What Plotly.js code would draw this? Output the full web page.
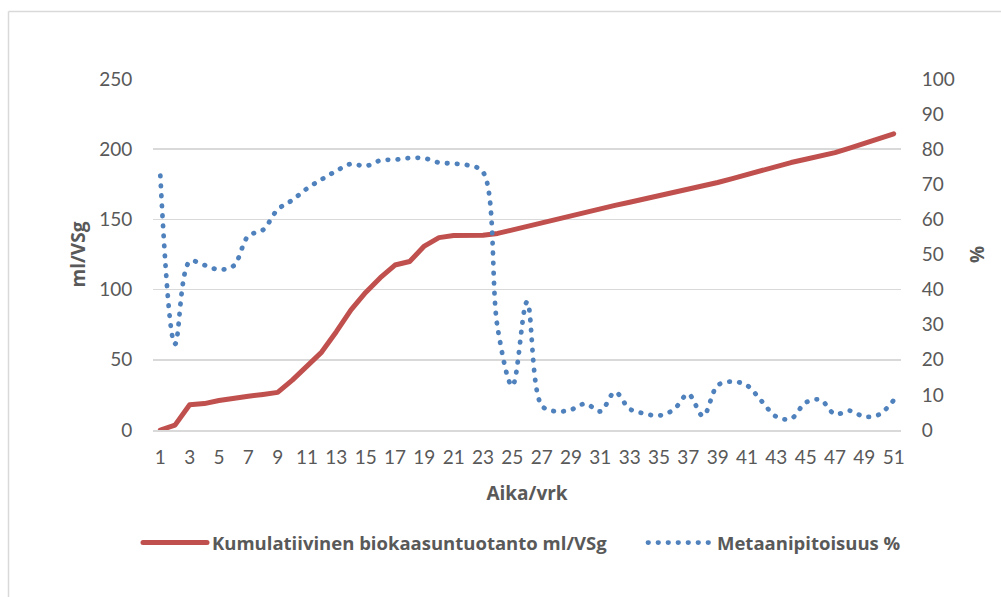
<!DOCTYPE html>
<html>
<head>
<meta charset="utf-8">
<script src="https://cdn.plot.ly/plotly-3.0.1.min.js"></script>
<style>
  html, body { margin: 0; padding: 0; background: #ffffff; }
  #chart { width: 1001px; height: 597px; }
</style>
</head>
<body>
<div id="chart"></div>
<script>
// Days (categories)
const days = [1,2,3,4,5,6,7,8,9,10,11,12,13,14,15,16,17,18,19,20,21,22,23,24,25,26,27,28,29,30,31,32,33,34,35,36,37,38,39,40,41,42,43,44,45,46,47,48,49,50,51];

// Cumulative biogas production, ml/VSg (left axis)
const biogas = [0,3.5,18,18.8,21,22.8,24,25.3,26.8,35.5,45,55.5,70,85.5,98,108.5,117.5,120,131,137,138.5,138.7,138.7,140,142.5,145.5,147.8,150.5,153,155.7,158,160,162.2,164.5,166.6,168.8,171,173.5,176.3,179,182,185,187.7,190.5,192.8,195,197.6,200.8,204,207.3,211];

// Methane content, % (right axis)
const methane = [72.5,24.5,48,47,45.7,46.8,55.3,57,62.8,65.5,68.8,71.4,73.8,75.8,75.2,76.8,77,77.5,77.4,76.2,75.9,75.4,73.5,29,12.6,36.5,7,5.3,5.8,7.5,5.3,10.8,6,4.7,4.1,5.8,10.2,4,12.7,13.8,12.7,8.2,3.8,3.2,7.8,8.6,4.5,5.5,3.8,4.4,8.5];

// Tick labels
const xTickVals = [1,3,5,7,9,11,13,15,17,19,21,23,25,27,29,31,33,35,37,39,41,43,45,47,49,51];
const xTickText = xTickVals.map(String);
const leftTicks = [0,50,100,150,200,250];
const rightTicks = [0,10,20,30,40,50,60,70,80,90,100];

const seriesNames = ["Kumulatiivinen biokaasuntuotanto ml/VSg", "Metaanipitoisuus %"];
const axisTitles = {x: "Aika/vrk", y: "ml/VSg", y2: "%"};
function b(s) { return "<b>" + s + "</b>"; }

const textColor = "#595959";
const gridColor = "#d9d9d9";
const fontFam = "Lato, 'Open Sans', sans-serif";
const boldFam = "'Open Sans', 'Noto Sans', sans-serif";

const traces = [
  {
    x: days, y: biogas, name: b(seriesNames[0]), type: "scatter", mode: "lines",
    line: {color: "#C0504D", width: 5},
    yaxis: "y", hoverinfo: "skip", legend: "legend"
  },
  {
    x: days, y: methane, name: b(seriesNames[1]), type: "scatter", mode: "lines",
    line: {color: "#4F81BD", width: 4.8, shape: "spline", smoothing: 1, dash: "0.5px,9.5px"},
    yaxis: "y2", hoverinfo: "skip", legend: "legend2"
  }
];

const W = 748, H = 351, L = 153, T = 79;
function px2x(p) { return (p - L) / W; }
function py2y(p) { return (T + H - p) / H; }

const legendCommon = {
  orientation: "h", xanchor: "left", y: py2y(543), yanchor: "middle",
  font: {family: boldFam, color: textColor, size: 18.5},
  itemwidth: 64, borderwidth: 0, bgcolor: "rgba(0,0,0,0)"
};

const layout = {
  width: 1001, height: 597,
  margin: {l: L, r: 1001 - L - W, t: T, b: 597 - T - H},
  paper_bgcolor: "#ffffff", plot_bgcolor: "#ffffff",
  font: {family: fontFam, color: textColor, size: 19},
  showlegend: true,
  legend: Object.assign({}, legendCommon, {x: px2x(138)}),
  legend2: Object.assign({}, legendCommon, {x: px2x(643)}),
  xaxis: {
    range: [0.5, 51.5], tickmode: "array", tickvals: xTickVals, ticktext: xTickText,
    showgrid: false, zeroline: false, showline: true, linecolor: gridColor, linewidth: 1.5,
    ticks: "outside", ticklen: 10, tickcolor: "rgba(0,0,0,0)",
    tickfont: {size: 19, color: textColor},
    title: {text: b(axisTitles.x), font: {family: boldFam, size: 19, color: textColor}, standoff: 19}
  },
  yaxis: {
    range: [0, 250], tickmode: "array", tickvals: leftTicks,
    showgrid: true, gridcolor: gridColor, gridwidth: 1.5, zeroline: false, showline: false,
    ticks: "outside", ticklen: 16, tickcolor: "rgba(0,0,0,0)",
    tickfont: {size: 19, color: textColor},
    title: {text: b(axisTitles.y), font: {family: boldFam, size: 19, color: textColor}, standoff: 8}
  },
  yaxis2: {
    range: [0, 100], overlaying: "y", side: "right", tickmode: "array", tickvals: rightTicks,
    showgrid: false, zeroline: false, showline: false,
    ticks: "outside", ticklen: 16, tickcolor: "rgba(0,0,0,0)",
    tickfont: {size: 19, color: textColor},
    title: {text: b(axisTitles.y2), font: {family: boldFam, size: 19, color: textColor}, standoff: 16}
  },
  shapes: [
    {type: "line", xref: "paper", yref: "paper", x0: px2x(8.5), x1: px2x(1010), y0: py2y(11.5), y1: py2y(11.5), line: {color: gridColor, width: 1.5}},
    {type: "line", xref: "paper", yref: "paper", x0: px2x(8.5), x1: px2x(8.5), y0: py2y(11.5), y1: py2y(610), line: {color: gridColor, width: 1.5}}
  ]
};

function roundCaps() {
  document.querySelectorAll("path.js-line").forEach(function (p) {
    p.style.strokeLinecap = "round";
    p.style.strokeLinejoin = "round";
  });
}
Plotly.newPlot("chart", traces, layout, {displayModeBar: false, staticPlot: true}).then(function () {
  roundCaps();
  setTimeout(roundCaps, 50);
});
</script>
</body>
</html>
